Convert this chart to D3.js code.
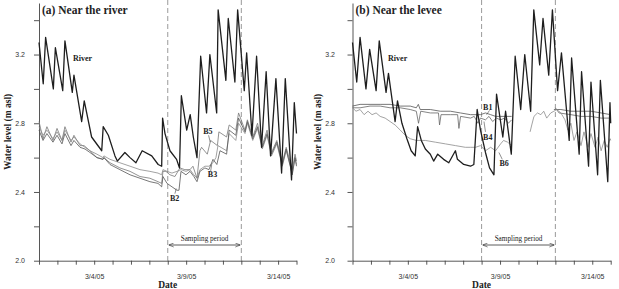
<!DOCTYPE html>
<html>
<head>
<meta charset="utf-8">
<script src="https://cdn.jsdelivr.net/npm/d3@7"></script>
<style>
  html, body { margin: 0; padding: 0; background: #fff; }
  svg { display: block; }
  .tick text { font-family: "Liberation Sans", Arial, sans-serif; font-size: 7px; fill: #333; }
  .serif { font-family: "Liberation Serif", "Times New Roman", serif; fill: #222; }
</style>
</head>
<body>
<div id="chart"></div>
<script>
// Water level (m asl) by day since 3/1/05 (UTC)

// ---- panel (a) near the river
const riverA = [
  [0.00,3.27],[0.23,3.03],[0.36,3.30],[0.78,3.00],[0.89,3.24],[1.29,2.99],[1.41,3.28],
  [1.81,2.98],[1.90,3.08],[2.32,2.81],[2.46,2.93],[2.86,2.72],[3.41,2.64],[3.49,2.78],
  [3.77,2.73],[4.13,2.61],[4.26,2.58],[4.67,2.63],[4.95,2.60],[5.27,2.57],[5.61,2.64],
  [6.13,2.61],[6.48,2.56],[6.67,2.55],[6.72,2.83],[6.85,2.74],[7.12,2.64],[7.48,2.59],
  [7.64,2.54],[7.74,2.96],[8.03,2.76],[8.22,2.85],[8.39,2.72],[8.59,2.60],[8.79,3.19],
  [9.11,2.86],[9.29,3.20],[9.66,2.86],[9.74,3.46],[10.16,3.05],[10.29,3.41],[10.65,3.04],
  [10.80,3.46],[11.16,2.99],[11.29,3.21],[11.58,2.73],[11.83,3.19],[12.10,2.66],[12.35,3.10],
  [12.59,2.61],[12.88,3.06],[13.19,2.51],[13.39,3.06],[13.73,2.47],[13.88,2.92],[14.00,2.74]
];
const b5A = [
  [0.00,2.81],[0.22,2.71],[0.43,2.78],[0.76,2.70],[0.98,2.77],[1.25,2.70],[1.41,2.78],
  [1.74,2.69],[1.90,2.73],[2.23,2.67],[2.45,2.67],[2.77,2.64],[3.15,2.60],[3.48,2.59],
  [3.53,2.60],[3.86,2.57],[4.40,2.54],[4.95,2.52],[5.49,2.49],[6.03,2.48],[6.47,2.46],
  [6.67,2.45],[6.74,2.52],[6.90,2.52],[7.12,2.50],[7.39,2.49],[7.66,2.54],[7.93,2.53],
  [8.21,2.53],[8.37,2.55],[8.59,2.48],[8.75,2.64],[8.84,2.66],[9.15,2.62],[9.33,2.70],
  [9.70,2.67],[9.78,2.75],[10.20,2.72],[10.34,2.79],[10.70,2.76],[10.85,2.86],[11.20,2.76],
  [11.33,2.82],[11.62,2.72],[11.88,2.80],[12.14,2.67],[12.40,2.76],[12.64,2.63],[12.93,2.70],
  [13.23,2.57],[13.44,2.66],[13.77,2.53],[13.92,2.62],[14.00,2.58]
];
const b3A = [
  [0.00,2.78],[0.22,2.73],[0.43,2.76],[0.76,2.71],[0.98,2.75],[1.25,2.70],[1.41,2.76],
  [1.74,2.70],[1.90,2.72],[2.23,2.68],[2.50,2.66],[2.77,2.64],[3.15,2.62],[3.48,2.60],
  [3.53,2.61],[3.86,2.59],[4.40,2.57],[4.95,2.55],[5.49,2.53],[6.03,2.52],[6.47,2.51],
  [6.67,2.50],[6.74,2.53],[6.96,2.52],[7.23,2.51],[7.50,2.52],[7.72,2.53],[7.99,2.52],
  [8.21,2.53],[8.42,2.50],[8.59,2.48],[8.75,2.53],[9.02,2.55],[9.24,2.55],[9.46,2.57],
  [9.62,2.60],[9.73,2.67],[10.20,2.64],[10.34,2.74],[10.70,2.70],[10.85,2.80],[11.20,2.74],
  [11.33,2.80],[11.62,2.70],[11.88,2.77],[12.14,2.65],[12.40,2.73],[12.64,2.61],[12.93,2.68],
  [13.23,2.55],[13.44,2.64],[13.77,2.51],[13.92,2.60],[14.00,2.56]
];
const b2A = [
  [0.00,2.76],[0.22,2.70],[0.43,2.74],[0.76,2.69],[0.98,2.73],[1.25,2.68],[1.41,2.74],
  [1.74,2.67],[1.90,2.70],[2.23,2.66],[2.50,2.65],[2.77,2.63],[3.15,2.60],[3.48,2.59],
  [3.53,2.60],[3.86,2.56],[4.40,2.53],[4.95,2.50],[5.49,2.48],[6.03,2.46],[6.47,2.45],
  [6.67,2.43],[6.74,2.49],[6.96,2.45],[7.23,2.43],[7.50,2.41],[7.61,2.41],[7.72,2.52],
  [7.99,2.50],[8.21,2.52],[8.42,2.49],[8.59,2.46],[8.75,2.52],[9.02,2.54],[9.24,2.53],
  [9.46,2.59],[9.67,2.56],[9.84,2.64],[10.20,2.62],[10.34,2.76],[10.70,2.73],[10.85,2.83],
  [11.20,2.75],[11.33,2.81],[11.62,2.71],[11.88,2.78],[12.14,2.66],[12.40,2.74],[12.64,2.62],
  [12.93,2.69],[13.23,2.56],[13.44,2.65],[13.77,2.50],[13.92,2.60],[14.00,2.55]
];

// ---- panel (b) near the levee
const riverB = [
  [0.00,3.27],[0.23,3.04],[0.41,3.30],[0.73,3.00],[0.93,3.23],[1.28,2.99],[1.45,3.28],
  [1.82,2.98],[1.95,3.09],[2.31,2.81],[2.44,2.93],[2.68,2.80],[2.95,2.71],[3.18,2.64],
  [3.40,2.61],[3.53,2.78],[3.73,2.70],[3.95,2.65],[4.22,2.62],[4.40,2.58],[4.62,2.62],
  [4.94,2.59],[5.22,2.57],[5.58,2.64],[5.69,2.59],[6.03,2.56],[6.40,2.55],[6.58,2.56],
  [6.76,2.88],[6.94,2.76],[7.21,2.63],[7.43,2.54],[7.67,2.50],[7.81,2.97],[8.15,2.72],
  [8.30,2.87],[8.61,2.62],[8.82,3.19],[9.12,2.88],[9.34,3.20],[9.66,2.87],[9.83,3.46],
  [10.15,3.14],[10.33,3.41],[10.64,3.08],[10.84,3.46],[11.12,2.99],[11.33,3.21],[11.75,2.70],
  [11.88,3.18],[12.29,2.62],[12.42,3.10],[12.80,2.55],[12.93,3.04],[13.29,2.50],[13.44,3.05],
  [13.84,2.46],[13.96,2.92],[14.00,2.80]
];
const b1B = [
  [0.00,2.90],[0.41,2.91],[0.95,2.91],[1.50,2.91],[2.04,2.91],[2.59,2.90],[3.13,2.90],
  [3.46,2.89],[3.57,2.91],[3.67,2.88],[4.22,2.88],[4.76,2.87],[5.31,2.87],[5.85,2.86],
  [6.40,2.85],[6.94,2.85],[7.21,2.86],[7.49,2.85],[7.76,2.84],[8.03,2.84],[8.30,2.84],
  [8.63,2.84], null,
  [10.92,2.88],[11.08,2.88],[11.30,2.88],[11.84,2.87],[12.39,2.87],[12.93,2.87],[13.48,2.86],
  [14.00,2.85]
];
const b4B = [
  [0.00,2.89],[0.41,2.89],[0.95,2.90],[1.50,2.90],[2.04,2.89],[2.59,2.89],[3.13,2.88],
  [3.46,2.87],[3.58,2.80],[3.70,2.87],[4.22,2.86],[4.66,2.86],[4.72,2.79],[4.80,2.85],
  [5.31,2.85],[5.70,2.85],[5.77,2.77],[5.86,2.84],[6.40,2.83],[6.60,2.84],[6.80,2.80],
  [6.94,2.83],[7.21,2.82],[7.40,2.84],[7.60,2.81],[7.80,2.83],[8.03,2.82],[8.25,2.83],
  [8.45,2.80],[8.63,2.82], null,
  [11.00,2.89],[11.20,2.86],[11.84,2.85],[12.39,2.84],[12.93,2.84],[13.48,2.83],[14.00,2.83]
];
const b6B = [
  [0.00,2.89],[0.19,2.87],[0.41,2.88],[0.63,2.85],[0.84,2.87],[1.06,2.85],[1.28,2.86],
  [1.50,2.84],[1.77,2.83],[2.04,2.81],[2.31,2.79],[2.59,2.76],[2.86,2.73],[3.13,2.71],
  [3.46,2.70],[3.95,2.70],[4.49,2.69],[5.04,2.68],[5.58,2.67],[6.12,2.66],[6.40,2.66],
  [6.67,2.66],[6.94,2.67],[7.21,2.64],[7.49,2.66],[7.76,2.64],[8.03,2.68],[8.19,2.70],
  [8.41,2.69],[8.63,2.67], null,
  [9.63,2.75],[9.72,2.79],[9.84,2.84],[10.03,2.86],[10.21,2.85],[10.37,2.87],[10.53,2.83],
  [10.75,2.86],[10.92,2.87],[11.08,2.88],[11.30,2.86],[11.52,2.82],[11.68,2.76],[11.84,2.80],
  [12.01,2.70],[12.17,2.75],[12.39,2.67],[12.55,2.75],[12.77,2.66],[12.93,2.74],[13.15,2.66],
  [13.32,2.72],[13.48,2.64],[13.65,2.70],[13.81,2.66],[13.97,2.71],[14.00,2.70]
];

// text labels: [text, day, value]; leaders: [day1, v1, day2, v2]
const labelsA = [["River",1.85,3.16],["B5",8.93,2.74],["B3",9.18,2.49],["B2",7.12,2.35]];
const leadersA = [[9.22,2.73,9.31,2.69],[9.33,2.52,9.39,2.56],[7.39,2.39,7.46,2.42]];
const labelsB = [["River",1.93,3.16],["B1",7.08,2.88],["B4",7.08,2.70],["B6",7.97,2.55]];
const leadersB = [[7.43,2.875,7.27,2.85],[7.21,2.75,7.13,2.81],[8.12,2.59,7.94,2.63]];

const yTicks = [2.0, 2.2, 2.4, 2.6, 2.8, 3.0, 3.2, 3.4];
const yLabelled = [2.0, 2.4, 2.8, 3.2];
const labelledDays = [4, 9, 14];
const samplingDays = [7, 11];

///////////////////////////////////////////////////////////// setup
const W = 619, H = 289;
const plotTop = 3, plotBottom = 260.7;
const t0 = Date.UTC(2005, 2, 1);
const toDate = (d) => new Date(t0 + d * 864e5);

const panels = [
  { title: "(a) Near the river", left: 39, right: 296.5, yTitleX: 10.5, yPad: 9,
    river: riverA, wells: [[b5A, "#777"], [b3A, "#8a8a8a"], [b2A, "#555"]],
    labels: labelsA, leaders: leadersA },
  { title: "(b) Near the levee", left: 352.5, right: 610.7, yTitleX: 321, yPad: 12.5,
    river: riverB, wells: [[b1B, "#555"], [b4B, "#666"], [b6B, "#8c8c8c"]],
    labels: labelsB, leaders: leadersB }
];

const svg = d3.select("#chart").append("svg").attr("width", W).attr("height", H);

const defs = svg.append("defs");
["start", "end"].forEach((k) => {
  defs.append("marker")
    .attr("id", "arr-" + k)
    .attr("viewBox", "0 0 10 10")
    .attr("refX", k === "end" ? 10 : 0).attr("refY", 5)
    .attr("markerWidth", 5).attr("markerHeight", 5)
    .attr("markerUnits", "userSpaceOnUse")
    .attr("orient", "auto")
    .append("path")
    .attr("d", k === "end" ? "M0,1L10,5L0,9" : "M10,1L0,5L10,9")
    .attr("fill", "none").attr("stroke", "#333").attr("stroke-width", 1.2);
});

panels.forEach((p) => {
  const x = d3.scaleUtc().domain([toDate(0), toDate(14)]).range([p.left, p.right]);
  const y = d3.scaleLinear().domain([2.0, 3.5]).range([plotBottom, plotTop]);
  const g = svg.append("g");

  // dashed sampling-period markers
  samplingDays.forEach((d) => {
    g.append("line")
      .attr("x1", x(toDate(d))).attr("x2", x(toDate(d)))
      .attr("y1", 0).attr("y2", plotBottom)
      .attr("stroke", "#9a9a9a").attr("stroke-width", 1)
      .attr("stroke-dasharray", "5,3");
  });

  // axes
  const xAxis = d3.axisBottom(x)
    .tickValues(d3.range(0, 15).map(toDate))
    .tickFormat((d) => labelledDays.includes(d.getUTCDate()) ? d3.utcFormat("%-m/%-d/%y")(d) : "")
    .tickSizeInner(4).tickSizeOuter(0).tickPadding(9.5);
  g.append("g").attr("transform", `translate(0,${plotBottom})`).call(xAxis);

  const yAxis = d3.axisLeft(y)
    .tickValues(yTicks)
    .tickFormat((d) => yLabelled.some((v) => Math.abs(v - d) < 1e-9) ? d.toFixed(1) : "")
    .tickSizeInner(5).tickSizeOuter(0).tickPadding(p.yPad);
  g.append("g").attr("transform", `translate(${p.left},0)`).call(yAxis);

  g.selectAll(".domain, .tick line").attr("stroke", "#444").attr("stroke-width", 0.9);

  // series
  const line = d3.line()
    .defined((d) => d !== null)
    .x((d) => x(toDate(d[0])))
    .y((d) => y(d[1]));

  p.wells.forEach(([data, col]) => {
    g.append("path").datum(data)
      .attr("d", line).attr("fill", "none")
      .attr("stroke", col).attr("stroke-width", 0.8)
      .attr("stroke-linejoin", "round");
  });
  g.append("path").datum(p.river)
    .attr("d", line).attr("fill", "none")
    .attr("stroke", "#1e1e1e").attr("stroke-width", 1.3)
    .attr("stroke-linejoin", "round");

  // labels
  p.labels.forEach(([t, d, v]) => {
    g.append("text").attr("class", "serif")
      .attr("x", x(toDate(d))).attr("y", y(v))
      .style("font-size", "8px").style("font-weight", "bold")
      .text(t);
  });
  p.leaders.forEach(([d1, v1, d2, v2]) => {
    g.append("line")
      .attr("x1", x(toDate(d1))).attr("y1", y(v1))
      .attr("x2", x(toDate(d2))).attr("y2", y(v2))
      .attr("stroke", "#444").attr("stroke-width", 0.6);
  });

  // sampling period annotation
  const sx0 = x(toDate(samplingDays[0])), sx1 = x(toDate(samplingDays[1]));
  g.append("line")
    .attr("x1", sx0 + 1).attr("x2", sx1 - 1)
    .attr("y1", 245).attr("y2", 245)
    .attr("stroke", "#333").attr("stroke-width", 0.8)
    .attr("marker-start", "url(#arr-start)").attr("marker-end", "url(#arr-end)");
  g.append("text").attr("class", "serif")
    .attr("x", (sx0 + sx1) / 2).attr("y", 241)
    .attr("text-anchor", "middle")
    .style("font-size", "7.2px")
    .text("Sampling period");

  // titles
  g.append("text").attr("class", "serif")
    .attr("x", p.left + 3).attr("y", 14)
    .style("font-size", "11.5px").style("font-weight", "bold")
    .text(p.title);

  g.append("text").attr("class", "serif")
    .attr("transform", `translate(${p.yTitleX},${(plotTop + plotBottom) / 2}) rotate(-90)`)
    .attr("text-anchor", "middle")
    .style("font-size", "9.5px").style("font-weight", "bold")
    .text("Water level (m asl)");

  g.append("text").attr("class", "serif")
    .attr("x", (p.left + p.right) / 2).attr("y", 288)
    .attr("text-anchor", "middle")
    .style("font-size", "9.5px").style("font-weight", "bold")
    .text("Date");
});
</script>
</body>
</html>
